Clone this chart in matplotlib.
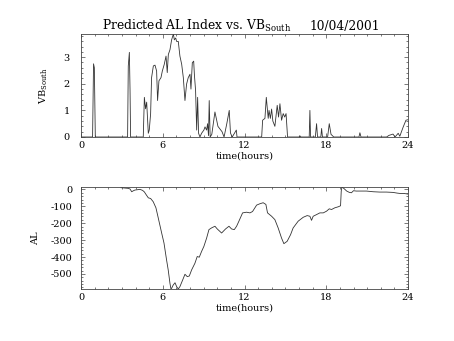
import matplotlib
matplotlib.use("Agg")
import matplotlib.pyplot as plt
from matplotlib.ticker import MultipleLocator

plt.rcParams["font.family"] = ["DejaVu Serif"]
plt.rcParams["mathtext.fontset"] = "dejavuserif"
plt.rcParams["axes.unicode_minus"] = False

# Southward IMF component (hours, value)
vb_hours = [0.0, 0.85, 0.92, 0.98, 1.05,
            3.42, 3.47, 3.55, 3.60, 3.64,
            4.57, 4.65, 4.74, 4.82, 4.94, 5.01, 5.11, 5.18, 5.31, 5.43, 5.55, 5.62,
            5.72, 5.87, 5.97, 6.11, 6.24, 6.33, 6.41, 6.53, 6.65, 6.78, 6.85, 6.95,
            7.02, 7.14, 7.26, 7.39, 7.51, 7.63, 7.75, 7.87, 8.00, 8.07, 8.17, 8.27,
            8.32, 8.41, 8.49, 8.56, 8.63, 8.73, 8.85, 9.02, 9.10, 9.22, 9.29, 9.36,
            9.41, 9.48, 9.60, 9.83, 9.95, 10.05, 10.20, 10.35, 10.50, 10.70, 10.88,
            10.97, 11.10, 11.40, 11.45,
            13.26, 13.33, 13.50, 13.60, 13.74, 13.80, 13.90, 13.99, 14.08, 14.23,
            14.40, 14.50, 14.60, 14.72, 14.84, 14.95, 15.05, 15.16,
            16.00, 16.07, 16.15, 16.75, 16.80, 16.85, 17.20, 17.29, 17.36, 17.60,
            17.66, 17.72, 18.10, 18.22, 18.35, 18.55,
            20.40, 20.47, 20.55, 22.43, 22.60, 22.90, 23.05, 23.28, 23.40, 23.65,
            23.85, 24.0]
vb_values = [0.0, 0.0, 2.75, 2.6, 0.0,
             0.0, 2.67, 3.18, 1.74, 0.0,
             0.0, 1.49, 1.06, 1.31, 0.14, 0.26, 0.88, 2.23, 2.67, 2.70, 2.48, 1.37,
             2.11, 2.23, 2.48, 2.73, 3.04, 2.42, 3.10, 3.28, 3.65, 3.87, 3.65, 3.72,
             3.59, 3.59, 3.04, 2.73, 2.23, 1.37, 1.99, 2.23, 2.36, 1.80, 2.79, 2.85,
             2.36, 1.74, 0.26, 1.49, 0.14, 0.0, 0.14, 0.26, 0.38, 0.26, 0.50, 0.05,
             1.37, 0.0, 0.10, 0.94, 0.65, 0.40, 0.30, 0.20, 0.0, 0.50, 1.00,
             0.15, 0.0, 0.26, 0.0,
             0.0, 0.63, 0.70, 1.49, 0.70, 1.00, 0.70, 1.05, 0.60, 0.40,
             1.19, 0.75, 1.25, 0.63, 0.88, 0.75, 0.88, 0.0,
             0.0, 0.04, 0.0, 0.0, 1.00, 0.0, 0.0, 0.50, 0.0, 0.0,
             0.32, 0.0, 0.0, 0.50, 0.10, 0.0,
             0.0, 0.16, 0.0, 0.0, 0.06, 0.11, 0.0, 0.14, 0.03, 0.38,
             0.63, 0.65]

# Predicted AL index (hours, nT)
al_hours = [2.93, 3.20, 3.47, 3.60, 3.72, 3.85, 3.96, 4.15, 4.33, 4.52, 4.65, 4.77,
            4.94, 5.11, 5.30, 5.50, 5.67, 5.92, 6.09, 6.28, 6.40, 6.53, 6.60, 6.65,
            6.77, 6.90, 7.02, 7.14, 7.26, 7.46, 7.63, 7.80, 7.95, 8.12, 8.36, 8.53,
            8.68, 8.85, 9.02, 9.22, 9.39, 9.58, 9.83, 10.00, 10.32, 10.61, 10.86,
            11.05, 11.25, 11.42, 11.59, 11.86, 12.15, 12.40, 12.59, 12.89, 13.13,
            13.37, 13.57, 13.69, 13.99, 14.23, 14.47, 14.72, 14.89, 15.13, 15.38,
            15.57, 15.94, 16.31, 16.60, 16.80, 16.92, 17.04, 17.29, 17.53, 17.78,
            18.02, 18.22, 18.39, 18.63, 18.88, 19.05, 19.10, 19.15, 19.30, 19.50,
            19.70, 19.85, 20.00, 20.20, 20.50, 20.95, 21.44, 21.93, 22.42, 22.90,
            23.20, 23.40, 23.70, 24.00]
al_values = [10, 8, 6, 2, -14, -8, -4, -2, 0, -6, -15, -30,
             -50, -54, -73, -109, -169, -258, -317, -417, -476, -556, -588, -585,
             -565, -552, -575, -589, -575, -536, -502, -516, -512, -476, -437, -397,
             -401, -367, -337, -288, -238, -228, -218, -234, -258, -234, -218,
             -234, -238, -218, -188, -139, -135, -139, -131, -93, -85,
             -79, -89, -139, -159, -179, -228, -288, -321, -307, -268,
             -228, -188, -165, -155, -159, -183, -159, -149, -139, -139,
             -129, -115, -119, -109, -103, -97, -10, 14, 5, -10,
             -18, -20, -8, -10, -10, -10, -14, -16, -16, -18,
             -22, -24, -24, -28]

x_ticks = [0, 6, 12, 18, 24]
title_main = r"Predicted AL Index vs. VB$_{\mathrm{South}}$"
title_date = "10/04/2001"

W, H = 454, 341
fig = plt.figure(figsize=(W / 100, H / 100), dpi=100)


def box(x0, y0, x1, y1):
    return [x0 / W, 1 - y1 / H, (x1 - x0) / W, (y1 - y0) / H]


ax1 = fig.add_axes(box(81, 34, 408, 137))
ax2 = fig.add_axes(box(81, 187, 408, 289))

line_kw = dict(color="#333333", lw=0.6)
ax1.plot(vb_hours, vb_values, **line_kw)
ax2.plot(al_hours, al_values, **line_kw)

ax1.set_ylim(0, max(vb_values))
ax2.set_ylim(min(al_values), max(al_values))

for ax in (ax1, ax2):
    ax.set_xlim(0, 24)
    ax.set_xticks(x_ticks)
    ax.xaxis.set_minor_locator(MultipleLocator(1))
    ax.tick_params(which="both", direction="in", top=True, right=True,
                   labelsize=7, width=0.5, color="#444444")
    ax.tick_params(which="major", length=3.2)
    ax.tick_params(which="minor", length=1.6)
    ax.tick_params(axis="x", pad=3)
    for s in ax.spines.values():
        s.set_linewidth(0.6)
        s.set_color("#444444")
    ax.set_xlabel("time(hours)", fontsize=7, labelpad=1)

ax1.set_yticks([0, 1, 2, 3])
ax1.yaxis.set_minor_locator(MultipleLocator(0.2))
ax1.tick_params(axis="y", pad=8)
ax1.set_ylabel(r"VB$_{\mathrm{South}}$", fontsize=7, labelpad=10)

ax2.set_yticks([-500, -400, -300, -200, -100, 0])
ax2.yaxis.set_minor_locator(MultipleLocator(20))
ax2.tick_params(axis="y", pad=6)
ax2.set_ylabel("AL", fontsize=7, labelpad=8)

fig.text(102 / W, 1 - 30 / H, title_main, fontsize=8.8, ha="left",
         va="baseline")
fig.text(380 / W, 1 - 30 / H, title_date, fontsize=8.8, ha="right",
         va="baseline")

fig.savefig("out.png", dpi=100, facecolor="white")
